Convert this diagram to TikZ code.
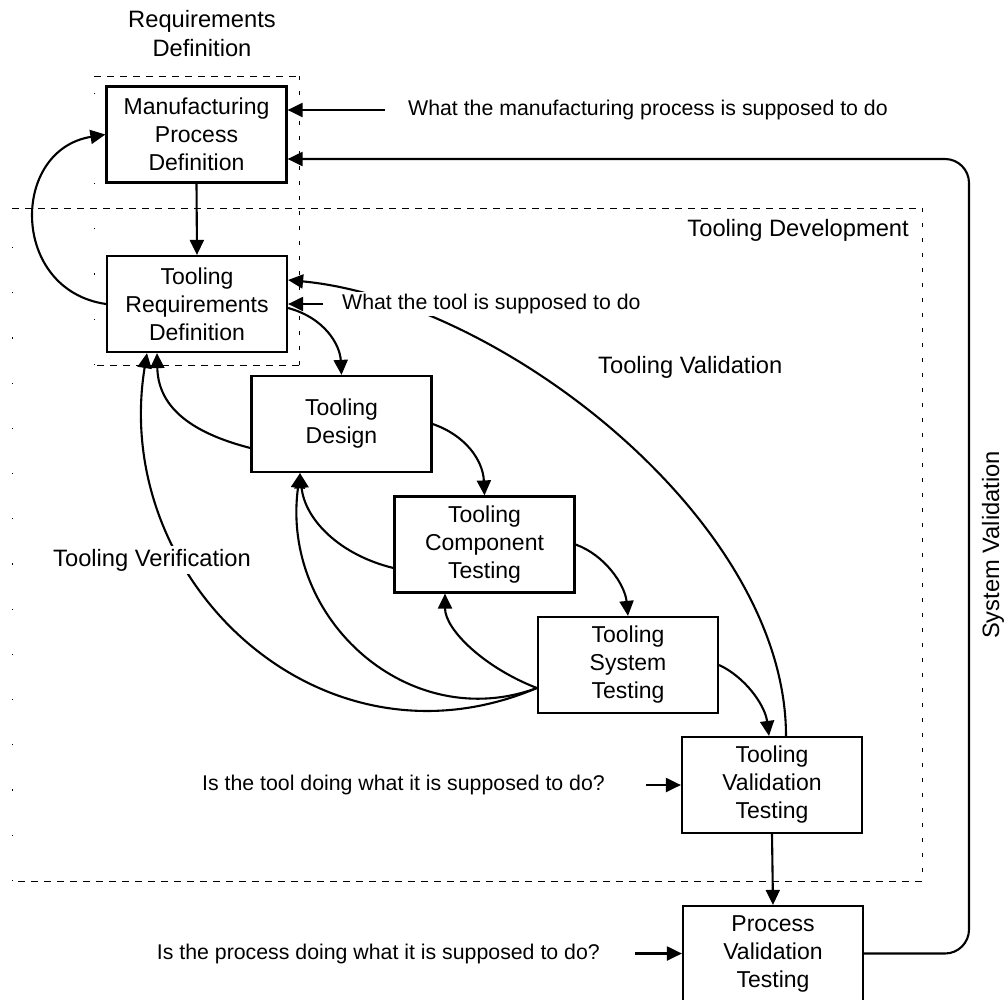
\documentclass[tikz,border=0pt]{standalone}
\usepackage{fontspec}
\setmainfont{Liberation Sans}
\usetikzlibrary{arrows.meta,calc}

\tikzset{
  box/.style={draw, line width=2.2pt, minimum width=180pt, minimum height=96pt,
    inner sep=0pt, align=center, font=\fontsize{23}{28}\selectfont},
  conn/.style={line width=2.1pt},
  arr/.style={conn, -{Triangle[length=15pt,width=14pt]}},
  lbl/.style={inner sep=0pt, font=\fontsize{23.7}{29}\selectfont},
  note/.style={inner sep=0pt, font=\fontsize{21.3}{26}\selectfont},
  zone/.style={line width=0.9pt, dash pattern=on 7pt off 6pt},
  zoneside/.style={line width=0.9pt, dash pattern=on 4pt off 11pt},
  zonefaint/.style={line width=1pt, dash pattern=on 1.2pt off 44pt},
}

\begin{document}
\begin{tikzpicture}[x=1pt,y=-1pt]
\useasboundingbox (0,0) rectangle (1007,999);

% --- phase zones ---
\draw[zone] (94,76) -- (299,76);
\draw[zoneside] (299,76) -- (299,365);
\draw[zone] (299,365) -- (94,365);
\draw[zonefaint] (94,365) -- (94,76);
\draw[zone] (12,208) -- (922,208);
\draw[zoneside] (922,208) -- (922,881);
\draw[zone] (922,881) -- (12,881);
\draw[zonefaint] (12,881) -- (12,208);

% --- process steps ---
\node[box] (MPD) at (196.5,134.5) {Manufacturing\\Process\\Definition};
\node[box] (TRD) at (197,304) {Tooling\\Requirements\\Definition};
\node[box] (TD)  at (341.5,424) {Tooling\\Design};
\node[box] (TCT) at (484.5,544.5) {Tooling\\Component\\Testing};
\node[box] (TST) at (628,665) {Tooling\\System\\Testing};
\node[box] (TVT) at (772,785) {Tooling\\Validation\\Testing};
\node[box, minimum height=95pt] (PVT) at (773,953.5) {Process\\Validation\\Testing};

% --- forward flow ---
\draw[arr] (MPD.south) -- (TRD.north);
\draw[arr] ([yshift=-4pt]TRD.east) .. controls (325,318) and (340,345) .. (TD.north);
\draw[arr] (TD.east) .. controls (465,435) and (483,460) .. (TCT.north);
\draw[arr] (TCT.east) .. controls (605,555) and (625,585) .. (TST.north);
\draw[arr] (TST.east) .. controls (745,677) and (765,705) .. ([xshift=-3pt]TVT.north);
\draw[arr] (TVT.south) -- (PVT.north);

% --- verification feedback ---
\draw[arr] (TRD.west) .. controls (10,290) and (10,150) .. (MPD.west);
\draw[arr] ([yshift=-24pt]TD.west) .. controls (180,430) and (158,400) .. ([xshift=-40pt]TRD.south);
\draw[arr] ([yshift=-23.5pt]TCT.west) .. controls (340,555) and (305,520) .. ([xshift=-41.5pt]TD.south);
\draw[arr] ([yshift=-23pt]TST.west) .. controls (485,668) and (445,630) .. ([xshift=-39.5pt]TCT.south);
\draw[arr] ([yshift=-23pt]TST.west) .. controls (410,735) and (280,620) .. ([xshift=-41.5pt]TD.south);
\draw[arr] ([yshift=-23pt]TST.west) .. controls (320,780) and (110,580) .. ([xshift=-50pt]TRD.south);

% --- tooling validation feedback ---
\draw[arr] ([xshift=14pt]TVT.north) .. controls (786,520) and (500,300) .. ([yshift=24pt]TRD.east);

% --- system validation loop ---
\coordinate (svtop) at (969,159);
\draw[arr, rounded corners=24pt] (PVT.east) -| (svtop) -- ([yshift=-24.5pt]MPD.east);

% --- zone labels ---
\node[lbl, align=center] (reqdef) at (202,33.5) {Requirements\\Definition};
\node[lbl, anchor=east] (tdev) at (909,230) {Tooling Development};
\node[lbl, anchor=west] (tval) at (598,367) {Tooling Validation};
\node[lbl, anchor=west, fill=white, inner sep=3pt] (tver) at (50,560) {Tooling Verification};
\node[lbl, rotate=90] (sval) at (993,545) {System Validation};

% --- questions feeding the steps ---
\node[note, anchor=west] (wm) at (408,110) {What the manufacturing process is supposed to do};
\draw[arr, shorten <=23pt] (wm.west) -- ([yshift=24.5pt]MPD.east);
\node[note, anchor=west, fill=white, inner sep=2pt] (wt) at (340,304) {What the tool is supposed to do};
\draw[arr, shorten <=17pt] (wt.west) -- (TRD.east);
\node[note, anchor=east] (it) at (605,785) {Is the tool doing what it is supposed to do?};
\draw[arr, shorten <=41pt] (it.east) -- (TVT.west);
\node[note, anchor=east] (ip) at (600,953.5) {Is the process doing what it is supposed to do?};
\draw[arr, shorten <=35pt] (ip.east) -- (PVT.west);
\end{tikzpicture}
\end{document}
